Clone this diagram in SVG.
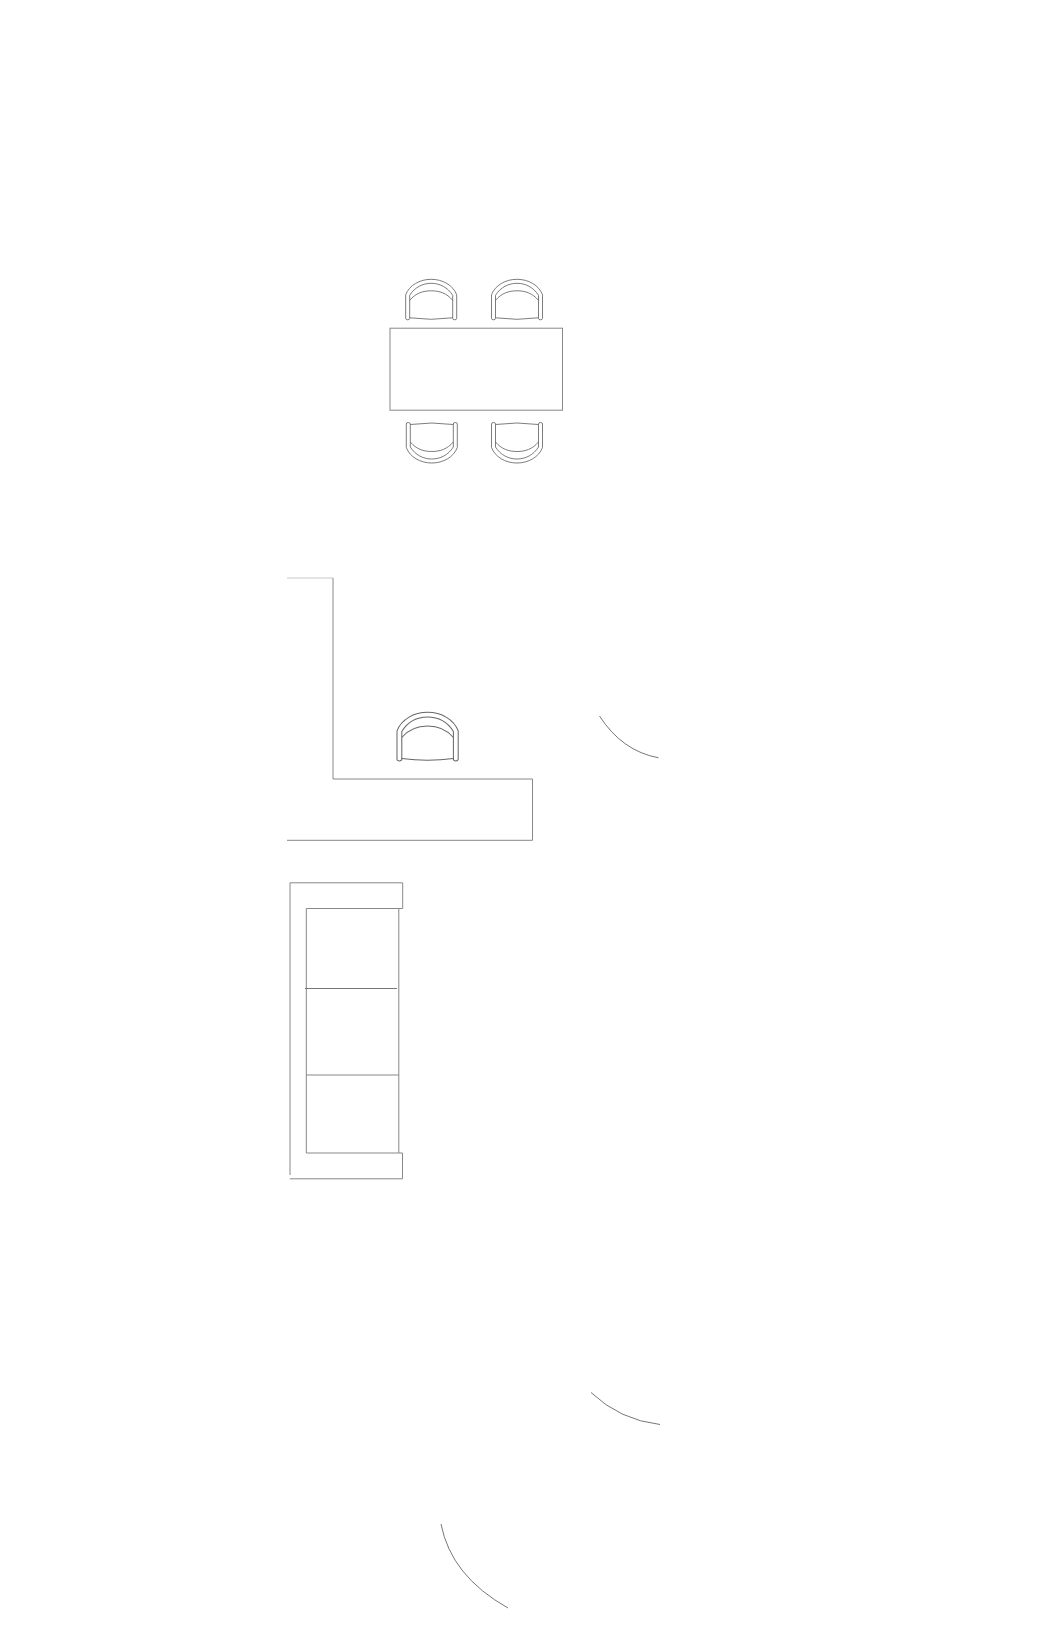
<svg xmlns="http://www.w3.org/2000/svg" width="1059" height="1649" viewBox="0 0 1059 1649">
<style>
.l{fill:none;stroke:#666;stroke-width:.9}
.t{fill:none;stroke:#888;stroke-width:1}
.c{fill:none;stroke:#666;stroke-width:.85}
</style>
<defs>
<g id="chair" class="c">
<path d="M0,39 V15.5 C3.5,6 14,0 25.5,0 C37,0 47.500,6 51,15.500 V39 Q51,40.500 49,40.500 Q47,40.500 47,39 V16 C42,8 34,4 25.500,4 C17,4 9,8 4,16 V39 Q4,40.500 2,40.500 Q0,40.500 0,39 Z"/>
<path d="M4,21 C10,14 17,11.500 25.500,11.500 C34,11.500 41,14 47,21"/>
<path d="M4,38.500 Q25.500,41.500 47,38.500"/>
</g>
</defs>
<rect width="1059" height="1649" fill="#fff"/>
<g id="dining-table"><rect class="t" x="390" y="328.200" width="172.500" height="82"/></g>
<g id="chair-1"><use href="#chair" transform="translate(405.700,279.300)"/></g>
<g id="chair-2"><use href="#chair" transform="translate(491.500,279.300)"/></g>
<g id="chair-3"><use href="#chair" transform="translate(406.300,463) scale(1,-1)"/></g>
<g id="chair-4"><use href="#chair" transform="translate(491.500,463) scale(1,-1)"/></g>
<g id="desk">
<path class="t" d="M287,578 H333" stroke-opacity=".45"/>
<path class="t" d="M333,578 V779 H532.500 V840.300 H287"/>
</g>
<g id="chair-5"><use href="#chair" transform="translate(397,712.300) scale(1.2)"/></g>
<g id="sofa">
<path class="t" d="M290,1175 V882.800 H402.700 V908.500 H398.800 V1153 H306.300 V908.500 H398.800"/>
<path class="t" d="M398.800,1153 H402.500 V1178.800 H289.800"/>
<path class="l" d="M305,988.500 H397"/>
<path class="t" d="M306.300,1075 H398.800"/>
</g>
<g id="door-swings">
<path class="l" d="M599.500,716 Q622,751 658.500,757.800"/>
<path class="l" d="M591,1392.500 Q620,1420 660,1424.500"/>
<path class="l" d="M441,1524 Q451,1576 508,1608"/>
</g>
</svg>
